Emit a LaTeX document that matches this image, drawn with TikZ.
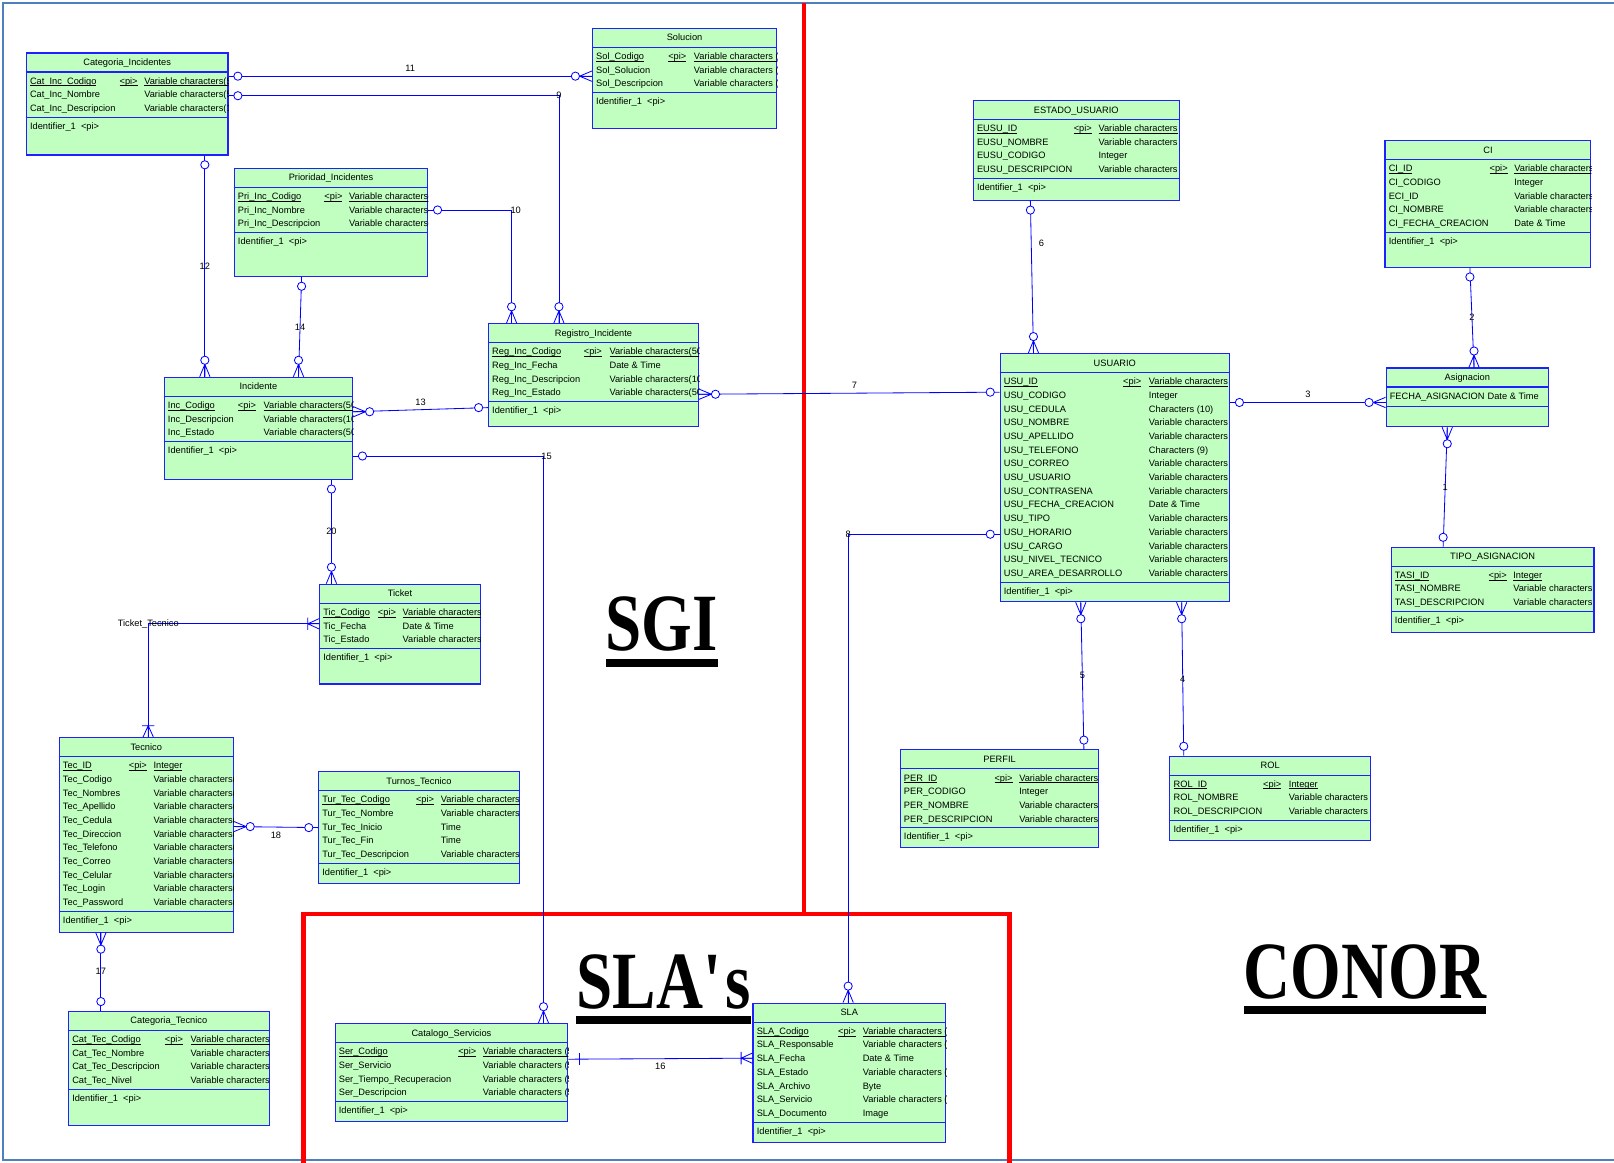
\documentclass[tikz,border=0pt]{standalone}
\usepackage{fontspec}
\setmainfont{Liberation Sans}
\newfontfamily\fuenterotulo[FakeStretch=0.8]{Liberation Serif}
\usetikzlibrary{positioning, calc}
\definecolor{verdetabla}{HTML}{C0FFC0}
\definecolor{azulborde}{HTML}{1F1FFF}
\definecolor{azullinea}{HTML}{0000FF}
\definecolor{rojozona}{HTML}{FF0000}
\definecolor{marco}{HTML}{4F7FBF}
\newcommand{\subr}[1]{\underline{\smash{#1}}}
\tikzset{
  tabla/.style={rectangle, draw=azulborde, fill=verdetabla, line width=1.1pt,
                anchor=north west, inner sep=0pt},
  borde/.style={draw=azulborde, line width=1.1pt},
  titulo/.style={anchor=base, inner sep=0pt, font=\fontsize{9}{11}\selectfont},
  fila/.style={anchor=base west, inner sep=0pt, font=\fontsize{9}{11}\selectfont},
  conector/.style={draw=azullinea, line width=0.8pt},
  etiq/.style={font=\fontsize{9}{11}\selectfont, inner sep=1pt},
  zona/.style={draw=rojozona, line width=4.5pt},
  rotulo/.style={anchor=base, inner sep=0pt, font=\fuenterotulo\bfseries\fontsize{79}{79}\selectfont},
  cero/.pic={\draw [conector, fill=white] (9,0) circle (4);},
  muchoscero/.pic={\draw [conector] (0,-5) -- (12,0) -- (0,5) (0,0) -- (12,0);
                   \draw [conector, fill=white] (16,0) circle (4);},
  muchosuno/.pic={\draw [conector] (0,-5) -- (11,0) -- (0,5) (0,0) -- (11,0) (11,-6) -- (11,6);},
  uno/.pic={\draw [conector] (11,-6) -- (11,6);}
}
% tabla: nombre, x, y, ancho, alto, titulo, columna pi, columna tipo, filas
\newcommand{\entidad}[9]{%
  \node (#1) [tabla, minimum width=#4pt, minimum height=#5pt] at (#2,#3) {};
  \draw [borde] ([yshift=-19pt]#1.north west) -- ([yshift=-19pt]#1.north east);
  \node [titulo] at ([yshift=-12.8pt]#1.north) {#6};
  \begin{scope}
    \clip (#1.south west) rectangle (#1.north east);
    \foreach \campo/\tipo [count=\i] in {#9} {
      \pgfmathsetmacro\yy{-30.8-(\i-1)*13.3}
      \ifnum\i=1
        \node [fila] at ([xshift=4pt, yshift=\yy pt]#1.north west) {\subr{\campo}};
        \node [fila] at ([xshift=#7pt, yshift=\yy pt]#1.north west) {\subr{<pi>}};
        \node [fila] at ([xshift=#8pt, yshift=\yy pt]#1.north west) {\subr{\tipo}};
      \else
        \node [fila] at ([xshift=4pt, yshift=\yy pt]#1.north west) {\campo};
        \node [fila] at ([xshift=#8pt, yshift=\yy pt]#1.north west) {\tipo};
      \fi
      \xdef\nfilas{\i}
    }
    \pgfmathsetmacro\ysep{-23-\nfilas*13.3}
    \draw [borde] ([yshift=\ysep pt]#1.north west) -- ([yshift=\ysep pt]#1.north east);
    \pgfmathsetmacro\yid{\ysep-11.8}
    \node [fila] at ([xshift=4pt, yshift=\yid pt]#1.north west) {Identifier\_1\hspace{5pt}<pi>};
  \end{scope}
}

\begin{document}
\begin{tikzpicture}[x=1pt, y=-1pt]
  \useasboundingbox (0,0) rectangle (1568,1129);
  \draw [draw=marco, line width=1.5pt] (1580,3) -- (3,3) -- (3,1127) -- (1580,1127);

  % zonas
  \draw [zona] (781,3) -- (781,888);
  \draw [zona] (295,1135) -- (295,888) -- (981,888) -- (981,1135);

  % SGI
  \entidad{catinc}{25}{51}{196}{99}{Categoria\_Incidentes}{91}{115}{%
    Cat\_Inc\_Codigo/Variable characters(50), Cat\_Inc\_Nombre/Variable characters(50),
    Cat\_Inc\_Descripcion/Variable characters(100)}
  \entidad{solucion}{575}{27}{179}{97}{Solucion}{74}{99}{%
    Sol\_Codigo/Variable characters (50), Sol\_Solucion/Variable characters (100),
    Sol\_Descripcion/Variable characters (100)}
  \entidad{prioridad}{227}{163}{188}{105}{Prioridad\_Incidentes}{88}{112}{%
    Pri\_Inc\_Codigo/Variable characters(50), Pri\_Inc\_Nombre/Variable characters(50),
    Pri\_Inc\_Descripcion/Variable characters(100)}
  \entidad{registro}{474}{314}{204}{100}{Registro\_Incidente}{93}{118}{%
    Reg\_Inc\_Codigo/Variable characters(50), Reg\_Inc\_Fecha/Date \& Time,
    Reg\_Inc\_Descripcion/Variable characters(100), Reg\_Inc\_Estado/Variable characters(50)}
  \entidad{incidente}{159}{366}{183}{99}{Incidente}{72}{97}{%
    Inc\_Codigo/Variable characters(50), Inc\_Descripcion/Variable characters(100),
    Inc\_Estado/Variable characters(50)}
  \entidad{ticket}{310}{567}{156}{97}{Ticket}{57}{81}{%
    Tic\_Codigo/Variable characters(50), Tic\_Fecha/Date \& Time,
    Tic\_Estado/Variable characters(50)}
  \entidad{tecnico}{57}{716}{169}{189}{Tecnico}{68}{92}{%
    Tec\_ID/Integer, Tec\_Codigo/Variable characters(50), Tec\_Nombres/Variable characters(50),
    Tec\_Apellido/Variable characters(50), Tec\_Cedula/Variable characters(10),
    Tec\_Direccion/Variable characters(50), Tec\_Telefono/Variable characters(10),
    Tec\_Correo/Variable characters(50), Tec\_Celular/Variable characters(10),
    Tec\_Login/Variable characters(50), Tec\_Password/Variable characters(50)}
  \entidad{turnos}{309}{749}{195}{109}{Turnos\_Tecnico}{95}{119}{%
    Tur\_Tec\_Codigo/Variable characters(50), Tur\_Tec\_Nombre/Variable characters(50),
    Tur\_Tec\_Inicio/Time, Tur\_Tec\_Fin/Time, Tur\_Tec\_Descripcion/Variable characters(100)}
  \entidad{cattec}{66}{982}{195}{111}{Categoria\_Tecnico}{94}{119}{%
    Cat\_Tec\_Codigo/Variable characters(50), Cat\_Tec\_Nombre/Variable characters(50),
    Cat\_Tec\_Descripcion/Variable characters(100), Cat\_Tec\_Nivel/Variable characters(50)}

  % SLA's
  \entidad{catalogo}{325}{994}{226}{95}{Catalogo\_Servicios}{120}{144}{%
    Ser\_Codigo/Variable characters (50), Ser\_Servicio/Variable characters (50),
    Ser\_Tiempo\_Recuperacion/Variable characters (50), Ser\_Descripcion/Variable characters (50)}
  \entidad{sla}{731}{974}{187}{135}{SLA}{83}{107}{%
    SLA\_Codigo/Variable characters (50), SLA\_Responsable/Variable characters (50),
    SLA\_Fecha/Date \& Time, SLA\_Estado/Variable characters (50), SLA\_Archivo/Byte,
    SLA\_Servicio/Variable characters (50), SLA\_Documento/Image}

  % CONOR
  \entidad{estado}{945}{97}{200}{97}{ESTADO\_USUARIO}{98}{122}{%
    EUSU\_ID/Variable characters, EUSU\_NOMBRE/Variable characters,
    EUSU\_CODIGO/Integer, EUSU\_DESCRIPCION/Variable characters}
  \entidad{ci}{1345}{136}{200}{123}{CI}{102}{126}{%
    CI\_ID/Variable characters, CI\_CODIGO/Integer, ECI\_ID/Variable characters,
    CI\_NOMBRE/Variable characters, CI\_FECHA\_CREACION/Date \& Time}
  \entidad{usuario}{971}{343}{223}{241}{USUARIO}{120}{145}{%
    USU\_ID/Variable characters, USU\_CODIGO/Integer, USU\_CEDULA/Characters (10),
    USU\_NOMBRE/Variable characters, USU\_APELLIDO/Variable characters,
    USU\_TELEFONO/Characters (9), USU\_CORREO/Variable characters,
    USU\_USUARIO/Variable characters, USU\_CONTRASENA/Variable characters,
    USU\_FECHA\_CREACION/Date \& Time, USU\_TIPO/Variable characters,
    USU\_HORARIO/Variable characters, USU\_CARGO/Variable characters,
    USU\_NIVEL\_TECNICO/Variable characters, USU\_AREA\_DESARROLLO/Variable characters}
  \entidad{tipoasig}{1351}{531}{197}{83}{TIPO\_ASIGNACION}{95}{119}{%
    TASI\_ID/Integer, TASI\_NOMBRE/Variable characters, TASI\_DESCRIPCION/Variable characters}
  \entidad{perfil}{874}{728}{193}{95}{PERFIL}{92}{116}{%
    PER\_ID/Variable characters, PER\_CODIGO/Integer, PER\_NOMBRE/Variable characters,
    PER\_DESCRIPCION/Variable characters}
  \entidad{rol}{1136}{734}{195}{82}{ROL}{91}{116}{%
    ROL\_ID/Integer, ROL\_NOMBRE/Variable characters, ROL\_DESCRIPCION/Variable characters}

  % Asignacion (sin identificador)
  \node (asignacion) [tabla, minimum width=158pt, minimum height=57pt] at (1346,357) {};
  \draw [borde] ([yshift=-19pt]asignacion.north west) -- ([yshift=-19pt]asignacion.north east);
  \draw [borde] ([yshift=-38pt]asignacion.north west) -- ([yshift=-38pt]asignacion.north east);
  \node [titulo] at ([yshift=-12.8pt]asignacion.north) {Asignacion};
  \node [fila] at ([xshift=4pt, yshift=-30.8pt]asignacion.north west) {FECHA\_ASIGNACION};
  \node [fila] at ([xshift=99pt, yshift=-30.8pt]asignacion.north west) {Date \& Time};

  % relaciones
  \draw [conector] ([yshift=-23pt]catinc.north east) coordinate (a11) -- ([yshift=-47pt]solucion.north west) coordinate (b11) node [etiq, midway, above=3pt] {11};
  \pic at (a11) {cero};
  \pic [rotate=180] at (b11) {muchoscero};
  \draw [conector] ([yshift=-42pt]catinc.north east) coordinate (a9) -| ([xshift=69pt]registro.north west) coordinate (b9) node [etiq, pos=0.5] {9};
  \pic at (a9) {cero};
  \pic [rotate=90] at (b9) {muchoscero};
  \draw [conector] ([yshift=-41pt]prioridad.north east) coordinate (a10) -| ([xshift=23pt]registro.north west) coordinate (b10) node [etiq, pos=0.5, xshift=4pt] {10};
  \pic at (a10) {cero};
  \pic [rotate=90] at (b10) {muchoscero};
  \draw [conector] ([xshift=174pt]catinc.south west) coordinate (a12) -- ([xshift=40pt]incidente.north west) coordinate (b12) node [etiq, midway] {12};
  \pic [rotate=-90] at (a12) {cero};
  \pic [rotate=90] at (b12) {muchoscero};
  \draw [conector] ([xshift=66pt]prioridad.south west) coordinate (a14) -- ([xshift=131pt]incidente.north west) coordinate (b14) node [etiq, midway] {14};
  \pic [rotate=-90] at (a14) {cero};
  \pic [rotate=90] at (b14) {muchoscero};
  \draw [conector] ([yshift=-34pt]incidente.north east) coordinate (a13) -- ([yshift=-82pt]registro.north west) coordinate (b13) node [etiq, midway, above=3pt] {13};
  \pic at (a13) {muchoscero};
  \pic [rotate=180] at (b13) {cero};
  \draw [conector] ([yshift=-77pt]incidente.north east) coordinate (a15) -| ([xshift=203pt]catalogo.north west) coordinate (b15) node [etiq, pos=0.5, xshift=3pt] {15};
  \pic at (a15) {cero};
  \pic [rotate=90] at (b15) {muchoscero};
  \draw [conector] ([xshift=163pt]incidente.south west) coordinate (a20) -- ([xshift=12pt]ticket.north west) coordinate (b20) node [etiq, midway] {20};
  \pic [rotate=-90] at (a20) {cero};
  \pic [rotate=90] at (b20) {muchoscero};
  \draw [conector] ([yshift=-39pt]ticket.north west) coordinate (att) -| ([xshift=87pt]tecnico.north west) coordinate (btt) node [etiq, pos=0.5] {Ticket\_Tecnico};
  \pic [rotate=180] at (att) {muchosuno};
  \pic [rotate=90] at (btt) {muchosuno};
  \draw [conector] ([xshift=41pt]tecnico.south west) coordinate (a17) -- ([xshift=32pt]cattec.north west) coordinate (b17) node [etiq, midway] {17};
  \pic [rotate=-90] at (a17) {muchoscero};
  \pic [rotate=90] at (b17) {cero};
  \draw [conector] ([yshift=-87pt]tecnico.north east) coordinate (a18) -- ([yshift=-55pt]turnos.north west) coordinate (b18) node [etiq, midway, below=3pt] {18};
  \pic at (a18) {muchoscero};
  \pic [rotate=180] at (b18) {cero};
  \draw [conector] ([yshift=-35pt]catalogo.north east) coordinate (a16) -- ([yshift=-54pt]sla.north west) coordinate (b16) node [etiq, midway, below=3pt] {16};
  \pic at (a16) {uno};
  \pic [rotate=180] at (b16) {muchosuno};
  \draw [conector] ([yshift=-69pt]registro.north east) coordinate (a7) -- ([yshift=-38pt]usuario.north west) coordinate (b7) node [etiq, midway, above=3pt, xshift=5pt] {7};
  \pic at (a7) {muchoscero};
  \pic [rotate=180] at (b7) {cero};
  \draw [conector] ([yshift=-176pt]usuario.north west) coordinate (a8) -| ([xshift=93pt]sla.north west) coordinate (b8) node [etiq, pos=0.5] {8};
  \pic [rotate=180] at (a8) {cero};
  \pic [rotate=90] at (b8) {muchoscero};
  \draw [conector] ([xshift=56pt]estado.south west) coordinate (a6) -- ([xshift=33pt]usuario.north west) coordinate (b6) node [etiq, pos=0.28, right=6pt] {6};
  \pic [rotate=-90] at (a6) {cero};
  \pic [rotate=90] at (b6) {muchoscero};
  \draw [conector] ([yshift=-48pt]usuario.north east) coordinate (a3) -- ([yshift=-34pt]asignacion.north west) coordinate (b3) node [etiq, midway, above=3pt] {3};
  \pic at (a3) {cero};
  \pic [rotate=180] at (b3) {muchoscero};
  \draw [conector] ([xshift=83pt]ci.south west) coordinate (a2) -- ([xshift=86pt]asignacion.north west) coordinate (b2) node [etiq, midway] {2};
  \pic [rotate=-90] at (a2) {cero};
  \pic [rotate=90] at (b2) {muchoscero};
  \draw [conector] ([xshift=60pt]asignacion.south west) coordinate (a1) -- ([xshift=51pt]tipoasig.north west) coordinate (b1) node [etiq, midway] {1};
  \pic [rotate=-90] at (a1) {muchoscero};
  \pic [rotate=90] at (b1) {cero};
  \draw [conector] ([xshift=79pt]usuario.south west) coordinate (a5) -- ([xshift=179pt]perfil.north west) coordinate (b5) node [etiq, midway] {5};
  \pic [rotate=-90] at (a5) {muchoscero};
  \pic [rotate=90] at (b5) {cero};
  \draw [conector] ([xshift=177pt]usuario.south west) coordinate (a4) -- ([xshift=14pt]rol.north west) coordinate (b4) node [etiq, midway] {4};
  \pic [rotate=-90] at (a4) {muchoscero};
  \pic [rotate=90] at (b4) {cero};

  % rotulos de zona
  \node (sgi) [rotulo] at (643,632) {SGI};
  \fill ([yshift=-8pt]sgi.base west) rectangle ([yshift=-16pt]sgi.base east);
  \node (slas) [rotulo] at (645,980) {SLA\textquotesingle s};
  \fill ([yshift=-7pt]slas.base west) rectangle ([yshift=-15pt]slas.base east);
  \node (conor) [rotulo] at (1326,970) {CONOR};
  \fill ([yshift=-7pt]conor.base west) rectangle ([yshift=-15pt]conor.base east);
\end{tikzpicture}
\end{document}
